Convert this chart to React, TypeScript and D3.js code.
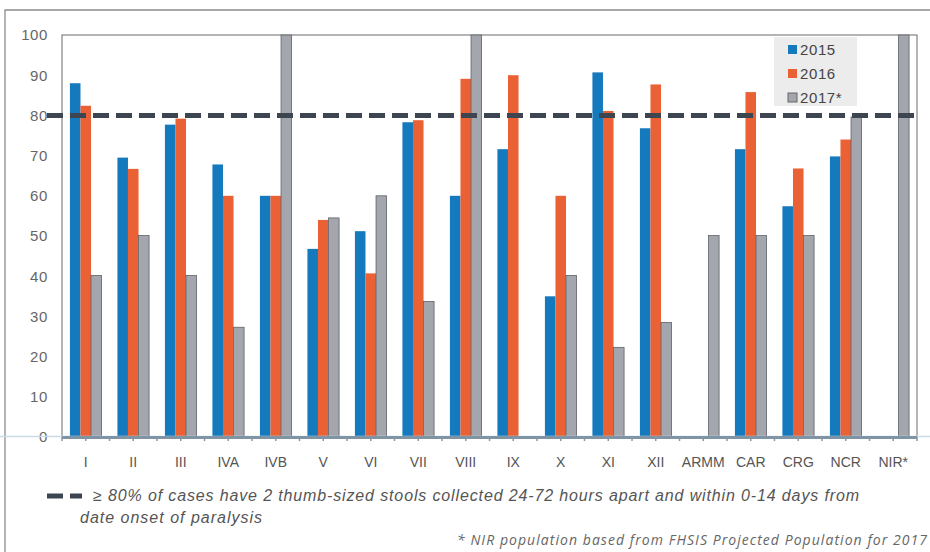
import React from "react";
import * as d3 from "d3";

const categories = ["I", "II", "III", "IVA", "IVB", "V", "VI", "VII", "VIII", "IX", "X", "XI", "XII", "ARMM", "CAR", "CRG", "NCR", "NIR*"];
const series2015 = [88, 69.5, 77.7, 67.8, 60, 46.8, 51.2, 78.3, 60, 71.6, 35, 90.7, 76.8, 0, 71.6, 57.4, 69.8, 0];
const series2016 = [82.4, 66.7, 79.2, 60, 60, 54, 40.7, 78.8, 89.1, 90, 60, 81.1, 87.7, 0, 85.8, 66.8, 74, 0];
const series2017 = [40.2, 50.1, 40.2, 27.3, 100, 54.5, 60, 33.7, 100, 0, 40.2, 22.3, 28.5, 50.1, 50.1, 50.1, 79.6, 100];
const seriesNames = ["2015", "2016", "2017*"];
const yTicks = [0, 10, 20, 30, 40, 50, 60, 70, 80, 90, 100];
const targetValue = 80;

const colors = ["#1479bd", "#ea6136", "#a3a6ad"];
const strokes = ["none", "none", "#5f636a"];

export default function App() {
  const W = 930, H = 552;
  const left = 62, right = 917, top = 35, bottom = 437;
  const x = d3.scaleBand<string>().domain(categories).range([left, right]).paddingInner(0).paddingOuter(0);
  const y = d3.scaleLinear().domain([0, 100]).range([bottom, top]);
  const step = x.bandwidth();
  const inner = d3.scaleBand<number>().domain([0, 1, 2]).range([step / 6, step * 5 / 6]);
  const data = [series2015, series2016, series2017];
  const font = "'Liberation Sans', Arial, sans-serif";
  const dash = "16 7";

  const tickXs: number[] = [];
  categories.forEach((c) => {
    tickXs.push(x(c)!);
    tickXs.push(x(c)! + step / 2);
  });
  tickXs.push(right);

  return (
    <svg width={W} height={H} style={{ position: "absolute", left: 0, top: 0, background: "#fff" }}>
      <defs>
        <filter id="shadow" x="-5%" y="-200%" width="110%" height="500%">
          <feGaussianBlur stdDeviation="2.2" />
        </filter>
      </defs>
      {/* outer frame */}
      <path d={`M5,${H} L5,10 L${W},10`} fill="none" stroke="#8c8c8c" strokeWidth={1.3} />
      {/* plot frame */}
      <rect x={left} y={top} width={right - left} height={bottom - top} fill="#fff" stroke="#6b6b6b" strokeWidth={1} />
      {/* y labels */}
      {yTicks.map((t) => (
        <text key={t} x={48} y={y(t)} dy="0.36em" textAnchor="end" fontFamily={font} fontSize={15} fill="#666" letterSpacing={0.6}>
          {t}
        </text>
      ))}
      {/* bars */}
      {data.map((vals, si) =>
        vals.map((v, i) =>
          v > 0 ? (
            <rect
              key={`${si}-${i}`}
              x={x(categories[i])! + inner(si)!}
              y={y(v)}
              width={inner.bandwidth()}
              height={y(0) - y(v)}
              fill={colors[si]}
              stroke={strokes[si]}
              strokeWidth={si === 2 ? 0.8 : 0}
            />
          ) : null
        )
      )}
      {/* baseline across page */}
      <line x1={0} x2={W} y1={bottom - 0.5} y2={bottom - 0.5} stroke="#c9dbe6" strokeWidth={1.5} />
      <line x1={left} x2={right} y1={bottom + 0.5} y2={bottom + 0.5} stroke="#7f95a6" strokeWidth={3} />
      {tickXs.map((tx, i) => (
        <line key={i} x1={tx} x2={tx} y1={bottom} y2={bottom + 4} stroke="#8796a3" strokeWidth={1.5} />
      ))}
      {/* target dashed line with shadow */}
      <line x1={47} x2={right} y1={y(targetValue) + 3} y2={y(targetValue) + 3} stroke="#555" strokeWidth={6} strokeDasharray={dash} opacity={0.6} filter="url(#shadow)" />
      <line x1={47} x2={right} y1={y(targetValue)} y2={y(targetValue)} stroke="#3d4650" strokeWidth={5} strokeDasharray={dash} />
      {/* x labels */}
      {categories.map((c) => (
        <text key={c} x={x(c)! + step / 2} y={467} textAnchor="middle" fontFamily={font} fontSize={14} fill="#555">
          {c}
        </text>
      ))}
      {/* legend */}
      <rect x={774} y={37} width={83} height={69} fill="#ececec" />
      {seriesNames.map((n, i) => (
        <g key={n} transform={`translate(788, ${45 + i * 24})`}>
          <rect x={0} y={0} width={9} height={9} fill={colors[i]} stroke={i === 2 ? "#666" : "none"} strokeWidth={1} />
          <text x={12} y={5} dy="0.36em" fontFamily={font} fontSize={15} fill="#444" letterSpacing={0.6}>
            {n}
          </text>
        </g>
      ))}
      {/* bottom legend */}
      <line x1={47} x2={82} y1={496} y2={496} stroke="#3d4650" strokeWidth={5} strokeDasharray={dash} />
      <text x={93} y={501} fontFamily={font} fontSize={16} fontStyle="italic" fill="#555" textLength={766} lengthAdjust="spacing">
        ≥ 80% of cases have 2 thumb-sized  stools collected 24-72 hours apart and within 0-14 days from
      </text>
      <text x={80} y={523} fontFamily={font} fontSize={16} fontStyle="italic" fill="#555" textLength={182} lengthAdjust="spacing">
        date onset of paralysis
      </text>
      <text x={457} y={545} fontFamily="'Open Sans', sans-serif" fontSize={14} fontStyle="italic" fill="#666" textLength={470} lengthAdjust="spacing">
        * NIR population based from FHSIS Projected Population for 2017
      </text>
    </svg>
  );
}
